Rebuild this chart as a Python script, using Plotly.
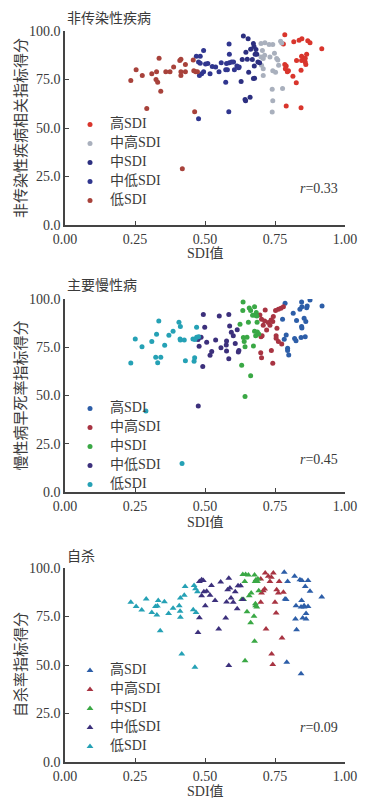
import plotly.graph_objects as go

# Page body has an 8px default margin, so the figure is drawn 8px in from the top-left.
OFF = 8
W, H = 379 - OFF, 806 - OFF
groups = ["高SDI", "中高SDI", "中SDI", "中低SDI", "低SDI"]

# ---------------- Panel 1: 非传染性疾病 ----------------
p1_high_x = [0.785, 0.78, 0.785, 0.79, 0.787, 0.798, 0.794, 0.79, 0.814, 0.817, 0.827, 0.826, 0.836, 0.846,
             0.845, 0.845, 0.843, 0.843, 0.854, 0.858, 0.86, 0.858, 0.863, 0.867, 0.875, 0.917]
p1_high_y = [98.1, 93.3, 82.7, 82.0, 80.6, 79.5, 79.0, 61.3, 76.7, 94.5, 84.8, 73.3, 95.2, 96.0,
             87.0, 84.8, 79.8, 60.4, 85.6, 84.0, 82.7, 86.0, 88.0, 95.0, 94.0, 90.8]
p1_mh_x = [0.70, 0.714, 0.729, 0.742, 0.705, 0.713, 0.70, 0.732, 0.748, 0.756, 0.76, 0.763, 0.702, 0.708,
           0.742, 0.752, 0.708, 0.77, 0.742, 0.74, 0.74, 0.777, 0.774, 0.708]
p1_mh_y = [93.5, 94.0, 93.0, 93.0, 90.0, 87.5, 86.6, 86.6, 88.5, 85.8, 85.0, 82.4, 82.4, 80.5,
           79.5, 78.8, 77.0, 94.7, 64.0, 58.2, 70.0, 70.4, 93.8, 85.8]
p1_m_x = [0.633, 0.637, 0.646, 0.643, 0.645, 0.651, 0.654, 0.656, 0.661, 0.663, 0.673, 0.669, 0.676, 0.677,
          0.679, 0.682, 0.685, 0.689, 0.695, 0.675, 0.673, 0.629]
p1_m_y = [85.3, 97.4, 89.0, 64.7, 64.0, 85.4, 96.0, 78.8, 65.8, 90.6, 93.5, 85.3, 82.0, 75.7,
          88.0, 90.4, 88.0, 84.0, 83.6, 92.0, 75.5, 74.0]
p1_ml_x = [0.469, 0.483, 0.495, 0.477, 0.483, 0.488, 0.48, 0.495, 0.502, 0.51, 0.518, 0.526, 0.538, 0.55,
           0.558, 0.574, 0.577, 0.58, 0.586, 0.587, 0.587, 0.595, 0.574, 0.585, 0.477, 0.602, 0.605,
           0.614, 0.62, 0.622]
p1_ml_y = [87.0, 87.0, 90.0, 84.0, 83.4, 78.0, 77.0, 79.0, 83.0, 83.2, 78.0, 81.7, 81.5, 79.0,
           83.6, 80.0, 83.2, 80.0, 93.3, 88.0, 83.6, 84.0, 73.6, 58.4, 54.8, 84.0, 80.0,
           82.0, 81.0, 81.5]
p1_low_x = [0.235, 0.254, 0.276, 0.292, 0.31, 0.327, 0.325, 0.331, 0.336, 0.342, 0.36, 0.375, 0.388, 0.41,
            0.414, 0.414, 0.414, 0.43, 0.43, 0.419, 0.458, 0.46, 0.463, 0.467, 0.473]
p1_low_y = [74.5, 80.0, 77.0, 60.0, 78.0, 79.0, 75.0, 73.6, 86.0, 69.0, 79.0, 79.0, 81.5, 84.8,
            85.4, 79.0, 77.0, 79.0, 82.7, 29.0, 85.0, 79.5, 58.4, 79.0, 79.0]

# ---------------- Panel 2: 主要慢性病 ----------------
p2_high_x = [0.786, 0.777, 0.79, 0.783, 0.795, 0.795, 0.799, 0.815, 0.82, 0.825, 0.827, 0.839, 0.843, 0.845,
             0.846, 0.846, 0.854, 0.858, 0.86, 0.863, 0.865, 0.875, 0.918, 0.845]
p2_high_y = [97.8, 89.5, 81.4, 79.1, 74.5, 73.3, 71.0, 92.6, 79.5, 78.4, 88.8, 94.7, 80.0, 85.7,
             85.0, 96.0, 90.0, 80.5, 88.3, 95.5, 96.4, 99.5, 96.4, 98.4]
p2_mh_x = [0.696, 0.702, 0.708, 0.713, 0.715, 0.70, 0.704, 0.699, 0.702, 0.72, 0.726, 0.736, 0.742, 0.744,
           0.732, 0.737, 0.742, 0.752, 0.762, 0.771, 0.78, 0.757, 0.754, 0.754, 0.762, 0.774]
p2_mh_y = [91.7, 89.5, 86.4, 88.6, 94.3, 80.5, 80.9, 72.2, 69.5, 84.0, 87.8, 89.1, 88.3, 90.9,
           86.4, 73.3, 66.7, 94.0, 94.7, 95.2, 96.0, 84.8, 80.9, 79.7, 78.0, 76.7]
p2_m_x = [0.636, 0.635, 0.643, 0.64, 0.637, 0.65, 0.643, 0.631, 0.655, 0.658, 0.663, 0.663, 0.67, 0.673,
          0.677, 0.679, 0.683, 0.686, 0.677, 0.681, 0.687, 0.692, 0.685, 0.625]
p2_m_y = [98.4, 94.0, 75.3, 78.0, 80.0, 80.2, 49.5, 65.7, 88.0, 95.3, 94.0, 60.2, 91.6, 75.7,
          96.0, 91.6, 93.0, 88.0, 83.3, 80.9, 82.9, 81.9, 91.2, 86.9]
p2_ml_x = [0.475, 0.48, 0.486, 0.479, 0.476, 0.494, 0.492, 0.499, 0.506, 0.518, 0.524, 0.538, 0.551, 0.557,
           0.576, 0.577, 0.585, 0.585, 0.588, 0.594, 0.601, 0.608, 0.615, 0.619, 0.621, 0.577]
p2_ml_y = [79.0, 80.2, 80.2, 75.5, 44.5, 92.0, 65.0, 85.3, 77.6, 70.9, 72.8, 78.8, 91.2, 74.8,
           76.2, 78.3, 69.0, 92.0, 86.0, 82.8, 80.9, 77.0, 84.1, 72.6, 73.3, 73.0]
p2_low_x = [0.235, 0.251, 0.275, 0.289, 0.31, 0.327, 0.324, 0.331, 0.342, 0.335, 0.356, 0.371, 0.386, 0.407,
            0.412, 0.411, 0.412, 0.418, 0.426, 0.43, 0.457, 0.461, 0.463, 0.47, 0.47, 0.477, 0.464]
p2_low_y = [66.9, 79.3, 75.2, 42.0, 78.0, 81.7, 69.8, 67.0, 69.8, 88.6, 76.0, 81.2, 83.3, 88.0,
            85.7, 79.3, 78.8, 14.8, 78.8, 68.0, 79.3, 67.8, 69.5, 85.3, 80.2, 80.5, 79.0]

# ---------------- Panel 3: 自杀 ----------------
p3_high_x = [0.783, 0.786, 0.79, 0.795, 0.792, 0.82, 0.823, 0.827, 0.825, 0.839, 0.845, 0.843, 0.846, 0.849,
             0.843, 0.854, 0.861, 0.861, 0.858, 0.868, 0.868, 0.875, 0.917, 0.854]
p3_high_y = [97.8, 84.0, 83.7, 93.1, 51.4, 95.7, 73.7, 68.2, 80.6, 94.0, 83.3, 79.9, 93.6, 74.2,
             45.5, 80.6, 76.6, 73.7, 90.5, 93.6, 80.2, 88.0, 85.0, 79.9]
p3_mh_x = [0.699, 0.699, 0.702, 0.708, 0.713, 0.715, 0.726, 0.718, 0.732, 0.737, 0.744, 0.738, 0.742, 0.75,
           0.754, 0.756, 0.762, 0.765, 0.775, 0.78]
p3_mh_y = [94.3, 82.3, 87.1, 88.3, 89.2, 97.4, 95.7, 68.6, 93.1, 95.2, 97.4, 55.7, 50.2, 82.3,
           76.8, 88.8, 87.1, 93.1, 63.9, 87.5]
p3_m_x = [0.635, 0.645, 0.655, 0.642, 0.631, 0.638, 0.65, 0.643, 0.658, 0.663, 0.665, 0.675, 0.677, 0.677,
          0.679, 0.682, 0.681, 0.685, 0.68, 0.687, 0.692, 0.689]
p3_m_y = [96.6, 96.7, 96.4, 93.1, 83.8, 83.7, 77.5, 52.2, 85.7, 71.8, 87.1, 75.1, 62.2, 96.4,
          93.1, 94.0, 80.6, 79.9, 81.6, 93.1, 88.3, 94.3]
p3_ml_x = [0.48, 0.488, 0.494, 0.48, 0.475, 0.488, 0.496, 0.506, 0.501, 0.518, 0.523, 0.536, 0.549, 0.556,
           0.574, 0.577, 0.581, 0.585, 0.585, 0.589, 0.593, 0.601, 0.608, 0.615, 0.618, 0.627, 0.635]
p3_ml_y = [93.1, 94.0, 93.6, 74.4, 66.8, 85.7, 87.8, 88.0, 80.6, 85.9, 91.0, 83.2, 68.6, 92.8,
           74.2, 82.5, 88.8, 94.7, 49.7, 89.7, 84.5, 82.3, 87.8, 79.0, 90.9, 90.9, 83.7]
p3_low_x = [0.235, 0.254, 0.274, 0.29, 0.31, 0.323, 0.33, 0.333, 0.328, 0.34, 0.355, 0.37, 0.386, 0.408,
            0.411, 0.412, 0.412, 0.417, 0.426, 0.429, 0.458, 0.461, 0.464, 0.466, 0.468, 0.473]
p3_low_y = [82.3, 80.2, 78.4, 84.0, 77.1, 80.2, 80.4, 83.3, 75.8, 67.7, 82.6, 76.6, 79.2, 80.6,
            77.7, 74.6, 84.5, 55.7, 85.9, 90.5, 78.5, 91.0, 48.8, 89.3, 77.1, 87.8]

panel_titles = ["非传染性疾病", "主要慢性病", "自杀"]
y_titles = ["非传染性疾病相关指标得分", "慢性病早死率指标得分", "自杀率指标得分"]
x_title = "SDI值"
r_texts = ["<i>r</i>=0.33", "<i>r</i>=0.45", "<i>r</i>=0.09"]
x_ticks = [0, 0.25, 0.5, 0.75, 1.0]
x_ticktext = ["0.00", "0.25", "0.50", "0.75", "1.00"]
y_ticks = [0, 25, 50, 75, 100]
y_ticktext = ["0.0", "25.0", "50.0", "75.0", "100.0"]

colors1 = ["#d9352c", "#a9b0bd", "#2c2f80", "#30368f", "#a8423b"]
colors23 = ["#2d5ea8", "#a83442", "#3aa845", "#3c307c", "#25a1b5"]

panels = [
    ([(p1_high_x, p1_high_y), (p1_mh_x, p1_mh_y), (p1_m_x, p1_m_y), (p1_ml_x, p1_ml_y), (p1_low_x, p1_low_y)],
     colors1, "circle", 5),
    ([(p2_high_x, p2_high_y), (p2_mh_x, p2_mh_y), (p2_m_x, p2_m_y), (p2_ml_x, p2_ml_y), (p2_low_x, p2_low_y)],
     colors23, "circle", 5),
    ([(p3_high_x, p3_high_y), (p3_mh_x, p3_mh_y), (p3_m_x, p3_m_y), (p3_ml_x, p3_ml_y), (p3_low_x, p3_low_y)],
     colors23, "triangle-up", 6),
]

# layout geometry in window pixels (converted below)
left_px, right_px = 65, 345
rows_px = [(31, 225), (299, 492), (568, 762)]
legend_top_px = [110, 394, 656]
legend_left_px = 70
title_px = [17, 284, 555]
xtitle_px = [253, 522, 791]
r_px = [188, 459, 727]
ytitle_x_px = 19


def px_x(p):
    return (p - OFF) / W


def px_y(p):
    return 1 - (p - OFF) / H


SERIF = "Liberation Serif, Noto Sans CJK SC, serif"
CJK = "Noto Sans CJK SC, sans-serif"
TXT = "#3a3a3a"

fig = go.Figure()
annotations = []
layout = dict(
    width=W, height=H, margin=dict(l=0, r=0, t=0, b=0, autoexpand=False),
    paper_bgcolor="white", plot_bgcolor="white", showlegend=True,
)

for i, (series, cols, sym, size) in enumerate(panels):
    k = "" if i == 0 else str(i + 1)
    top, bot = rows_px[i]
    for g, (xs, ys), c in zip(groups, series, cols):
        fig.add_trace(go.Scatter(
            x=xs, y=ys, mode="markers", name='<span style="font-size:14px">' + g + '</span>',
            marker=dict(symbol=sym, size=size, color=c, line=dict(width=0)),
            xaxis="x" + k, yaxis="y" + k, legend="legend" + k,
        ))
    axis_common = dict(
        showgrid=False, zeroline=False, showline=True, linecolor="#444", linewidth=1.5,
        ticks="inside", ticklen=4, tickwidth=1.2, tickcolor="#444", automargin=False,
        tickfont=dict(family=SERIF, size=14, color=TXT), fixedrange=True,
    )
    layout["xaxis" + k] = dict(
        axis_common, domain=[px_x(left_px), px_x(right_px)], range=[0, 1], anchor="y" + k,
        tickvals=x_ticks, ticktext=x_ticktext,
    )
    layout["yaxis" + k] = dict(
        axis_common, domain=[px_y(bot), px_y(top)], range=[0, 100], anchor="x" + k,
        tickvals=y_ticks, ticktext=y_ticktext,
    )
    layout["legend" + k] = dict(
        x=px_x(legend_left_px), xanchor="left", y=px_y(legend_top_px[i]), yanchor="top",
        font=dict(family=SERIF, size=10, color=TXT), bgcolor="rgba(0,0,0,0)",
        itemwidth=30, tracegroupgap=0, traceorder="normal",
    )
    annotations.append(dict(
        text=panel_titles[i], x=px_x(left_px), y=px_y(title_px[i]), xref="paper", yref="paper",
        xanchor="left", yanchor="middle", showarrow=False,
        font=dict(family=CJK, size=14, color=TXT),
    ))
    annotations.append(dict(
        text=y_titles[i], x=px_x(ytitle_x_px), y=px_y((top + bot) / 2), xref="paper", yref="paper",
        xanchor="center", yanchor="middle", showarrow=False, textangle=-90,
        font=dict(family=CJK, size=15, color=TXT),
    ))
    annotations.append(dict(
        text=x_title, x=px_x((left_px + right_px) / 2), y=px_y(xtitle_px[i]), xref="paper", yref="paper",
        xanchor="center", yanchor="middle", showarrow=False,
        font=dict(family=SERIF, size=14, color=TXT),
    ))
    annotations.append(dict(
        text=r_texts[i], x=px_x(340), y=px_y(r_px[i]), xref="paper", yref="paper",
        xanchor="right", yanchor="middle", showarrow=False,
        font=dict(family=SERIF, size=14, color=TXT),
    ))

layout["annotations"] = annotations
fig.update_layout(**layout)
fig.write_html("out.html")
